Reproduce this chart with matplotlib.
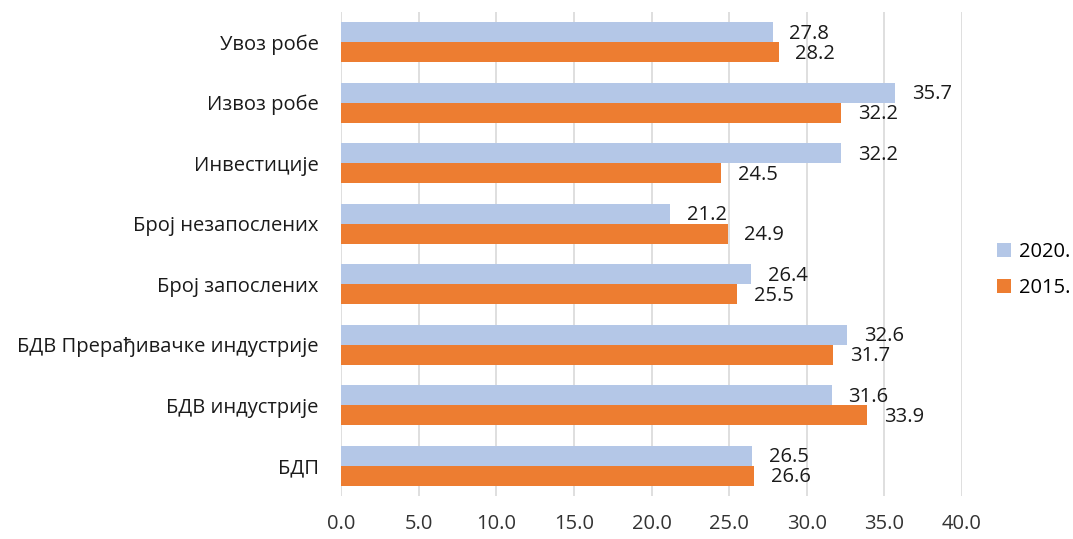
import matplotlib
matplotlib.use("Agg")
import matplotlib.pyplot as plt
import numpy as np

# categories listed bottom to top
categories = ["БДП", "БДВ индустрије", "БДВ Прерађивачке индустрије",
              "Број запослених", "Број незапослених", "Инвестиције",
              "Извоз робе", "Увоз робе"]
values_2020 = [26.5, 31.6, 32.6, 26.4, 21.2, 32.2, 35.7, 27.8]
values_2015 = [26.6, 33.9, 31.7, 25.5, 24.9, 24.5, 32.2, 28.2]
series_names = ["2020.", "2015."]
x_ticks = [0, 5, 10, 15, 20, 25, 30, 35, 40]

plt.rcParams['font.family'] = ['Open Sans', 'DejaVu Sans']

fig = plt.figure(figsize=(10.73, 5.39), dpi=100)
ax = fig.add_axes([341 / 1073, 1 - 496 / 539, (962 - 341) / 1073, (496 - 12) / 539])

y = np.arange(len(categories))
h = 0.33
b20 = ax.barh(y + h / 2, values_2020, height=h, color="#b4c7e7", label=series_names[0], zorder=2)
b15 = ax.barh(y - h / 2, values_2015, height=h, color="#ed7d31", label=series_names[1], zorder=2)

for bars, vals in ((b20, values_2020), (b15, values_2015)):
    for bar, v in zip(bars, vals):
        ax.annotate(f"{v:.1f}", (v, bar.get_y() + bar.get_height() / 2),
                    xytext=(12, -1), textcoords="offset points",
                    ha="left", va="center", fontsize=14.5, color="#1a1a1a")

ax.set_xlim(0, 40)
ax.set_ylim(-0.5, len(categories) - 0.5)
ax.set_xticks(x_ticks)
ax.set_xticklabels([f"{t:.1f}" for t in x_ticks])
ax.set_yticks(y)
ax.set_yticklabels(categories)
ax.tick_params(axis="x", length=0, labelsize=14.5, labelcolor="#333333", pad=13)
ax.tick_params(axis="y", length=0, labelsize=14.5, labelcolor="#1a1a1a", pad=16)
ax.grid(axis="x", color="#d9d9d9", linewidth=1.2, zorder=0)
for s in ax.spines.values():
    s.set_visible(False)

handles, labels = ax.get_legend_handles_labels()
fig.legend(handles, labels, loc="center left", bbox_to_anchor=(997 / 1073, 1 - 270 / 539),
           frameon=False, fontsize=14.5, handlelength=0.7, handleheight=0.7,
           handletextpad=0.4, labelspacing=0.8, borderpad=0, borderaxespad=0)

fig.savefig("out.png", dpi=100)
